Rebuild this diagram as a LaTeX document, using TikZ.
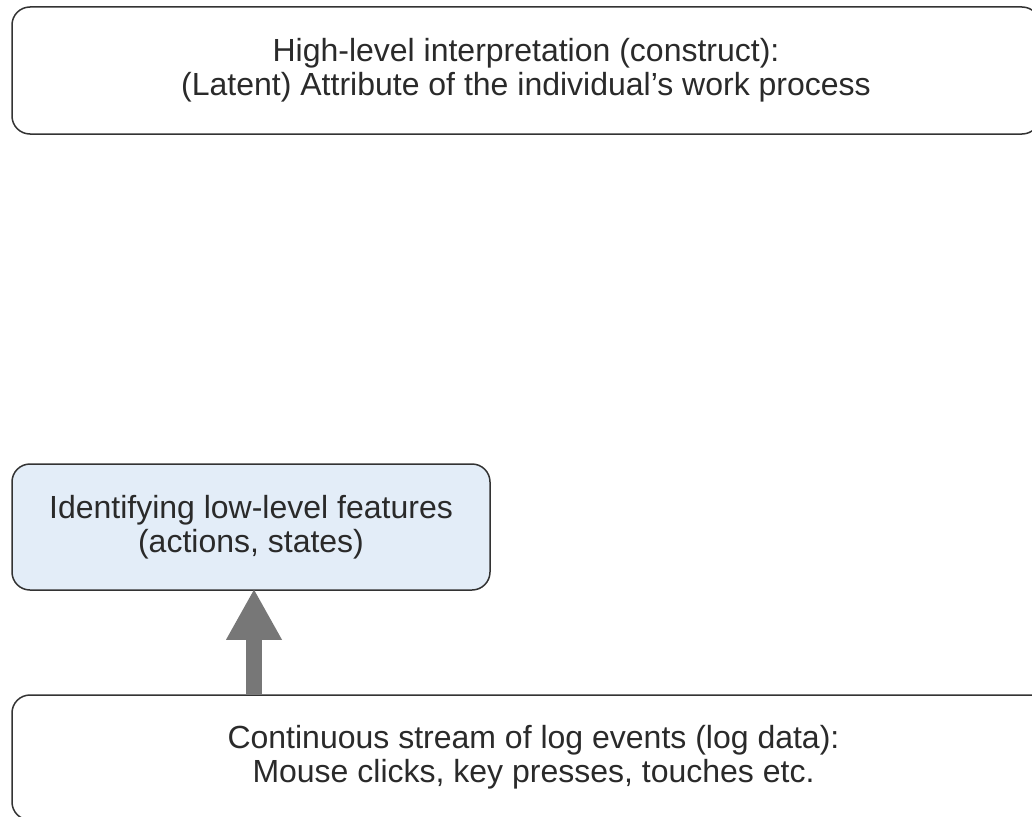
\documentclass[tikz,border=0pt]{standalone}
\usepackage{fontspec}
\setmainfont{Liberation Sans}
\usetikzlibrary{arrows.meta}
\definecolor{strokec}{HTML}{333333}
\definecolor{textc}{HTML}{2A2A2A}
\definecolor{midfill}{HTML}{E3EDF8}
\definecolor{arrowc}{HTML}{777777}
\tikzset{
  box/.style={draw=strokec, line width=1.5pt, rounded corners=18pt, align=center,
    text=textc, inner sep=0pt, font=\fontsize{32}{34}\selectfont},
  bigarrow/.style={draw=arrowc, line width=16pt, -{Triangle[width=52pt,length=51pt]}, fill=arrowc}
}
\begin{document}
\begin{tikzpicture}[x=1pt,y=-1pt]
\useasboundingbox (0,0) rectangle (1032,816);
\clip (0,0) rectangle (1032,816);
\node[box, minimum width=1028pt, minimum height=127pt] (top) at (526,70.5)
  {High-level interpretation (construct):\\(Latent) Attribute of the individual’s work process};
\node[box, fill=midfill, minimum width=478pt, minimum height=126pt] (mid) at (251,527)
  {Identifying low-level features\\(actions, states)};
\node[box, minimum width=1043pt, minimum height=125pt] (bot) at (533.5,757.5)
  {Continuous stream of log events (log data):\\Mouse clicks, key presses, touches etc.};
\draw[bigarrow] ([xshift=3pt]bot.north -| mid.south) -- ([xshift=3pt,yshift=2pt]mid.south);
\end{tikzpicture}
\end{document}
